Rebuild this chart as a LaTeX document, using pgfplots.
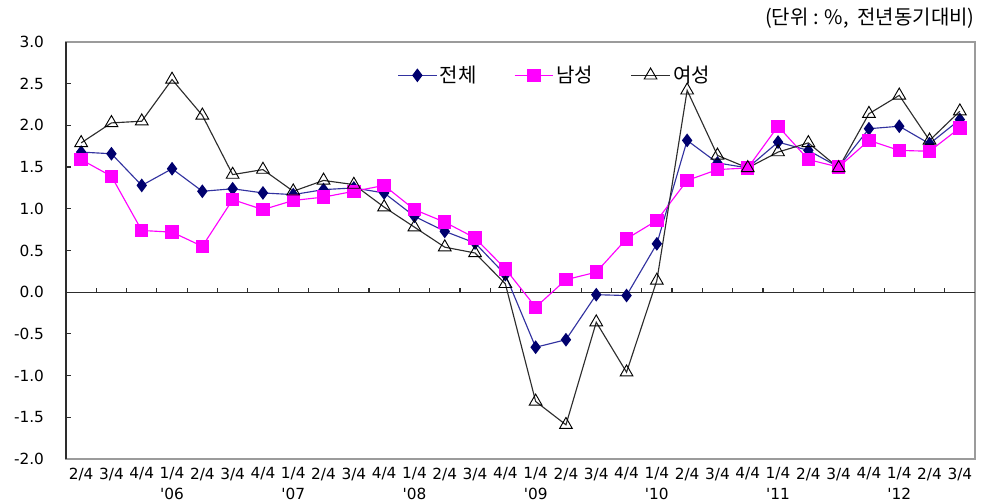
\documentclass[border=0pt]{standalone}
\usepackage{fontspec}
\setmainfont{Noto Sans CJK KR}
\newfontfamily\tickfont{DejaVu Sans}
\usepackage{pgfplots}
\pgfplotsset{compat=1.18}

\definecolor{navyline}{RGB}{50,50,160}
\definecolor{navymark}{RGB}{0,0,110}
\definecolor{magentaC}{RGB}{255,0,255}
\definecolor{frameC}{RGB}{155,155,155}
\definecolor{darkC}{RGB}{45,45,45}

% quarterly year-on-year change, 2/4 '05 .. 3/4 '12
\pgfplotstableread{
x total male female
0  1.68  1.59  1.79
1  1.66  1.39  2.03
2  1.28  0.74  2.05
3  1.48  0.72  2.55
4  1.21  0.55  2.12
5  1.24  1.11  1.41
6  1.19  0.99  1.47
7  1.17  1.10  1.21
8  1.23  1.14  1.34
9  1.25  1.21  1.29
10 1.19  1.28  1.02
11 0.91  0.99  0.78
12 0.73  0.84  0.54
13 0.59  0.65  0.47
14 0.21  0.28  0.10
15 -0.66 -0.18 -1.31
16 -0.57 0.15  -1.59
17 -0.03 0.24  -0.36
18 -0.04 0.64  -0.96
19 0.58  0.86  0.14
20 1.82  1.34  2.42
21 1.55  1.47  1.64
22 1.49  1.49  1.49
23 1.80  1.99  1.68
24 1.70  1.59  1.79
25 1.50  1.50  1.49
26 1.96  1.82  2.14
27 1.99  1.70  2.36
28 1.78  1.69  1.82
29 2.07  1.97  2.17
}\datatable

\begin{document}
\begin{tikzpicture}
\begin{axis}[
  scale only axis,
  width=681.75pt, height=312.75pt,
  xmin=-0.5, xmax=29.5, ymin=-2, ymax=3,
  axis line style={frameC, line width=0.9pt},
  ytick={-2,-1.5,-1,-0.5,0,0.5,1,1.5,2,2.5,3},
  ytick pos=left,
  tick align=inside,
  major tick length=4pt,
  tick style={darkC, line width=0.9pt},
  /pgf/number format/fixed,
  /pgf/number format/fixed zerofill,
  /pgf/number format/precision=1,
  /pgf/number format/assume math mode=true,
  yticklabel style={xshift=-13pt},
  xtick={0,...,29},
  xtick style={draw=none},
  xticklabels={2/4,3/4,4/4,{1/4\\\textquotesingle06},2/4,3/4,4/4,{1/4\\\textquotesingle07},2/4,3/4,4/4,{1/4\\\textquotesingle08},2/4,3/4,4/4,{1/4\\\textquotesingle09},2/4,3/4,4/4,{1/4\\\textquotesingle10},2/4,3/4,4/4,{1/4\\\textquotesingle11},2/4,3/4,4/4,{1/4\\\textquotesingle12},2/4,3/4},
  xticklabel style={align=center, anchor=north, yshift=-3pt},
  tick label style={font=\tickfont\fontsize{11.5}{15.75}\selectfont, text=black},
  legend style={at={(0.538,0.92)}, anchor=center, draw=none, fill=none,
    font=\fontsize{15}{16}\selectfont,
    /tikz/every even column/.append style={column sep=26pt}},
  legend columns=3,
  legend image code/.code={\draw[mark repeat=2, mark phase=2, #1] plot coordinates {(0pt,0pt) (14.5pt,0pt) (29pt,0pt)};},
  clip=false,
]
% zero line with quarter separators
\draw[darkC, line width=1pt] (axis cs:-0.5,0) -- (axis cs:29.5,0);
\pgfplotsinvokeforeach{0.5,1.5,...,28.5}{
  \draw[darkC, line width=0.9pt] (axis cs:#1,0) -- ([yshift=3pt]axis cs:#1,0);
}
\draw[darkC, line width=1pt] (rel axis cs:0,0) -- (rel axis cs:0,1);

\addplot[navyline, line width=0.85pt, mark=diamond*, mark size=4.5pt,
  mark options={navymark, fill=navymark}] table[x=x, y=total] {\datatable};
\addlegendentry{전체}
\addplot[magentaC, line width=0.85pt, mark=square*, mark size=4.6pt,
  mark options={magentaC, fill=magentaC}] table[x=x, y=male] {\datatable};
\addlegendentry{남성}
\addplot[darkC, line width=0.85pt, mark=triangle, mark size=5.5pt,
  mark options={black, fill=white, line width=0.7pt}] table[x=x, y=female] {\datatable};
\addlegendentry{여성}

\node[anchor=base east, font=\fontsize{15}{16}\selectfont, inner sep=0pt]
  at ([yshift=13pt]rel axis cs:1,1) {(단위 : \%,\ \ 전년동기대비)};
\coordinate (ll) at (rel axis cs:0,0);
\coordinate (ur) at (rel axis cs:1,1);
\end{axis}
\pgfresetboundingbox
\path ([shift={(-49.5pt,-33.75pt)}]ll) rectangle ([shift={(4.5pt,31.5pt)}]ur);
\end{tikzpicture}
\end{document}
